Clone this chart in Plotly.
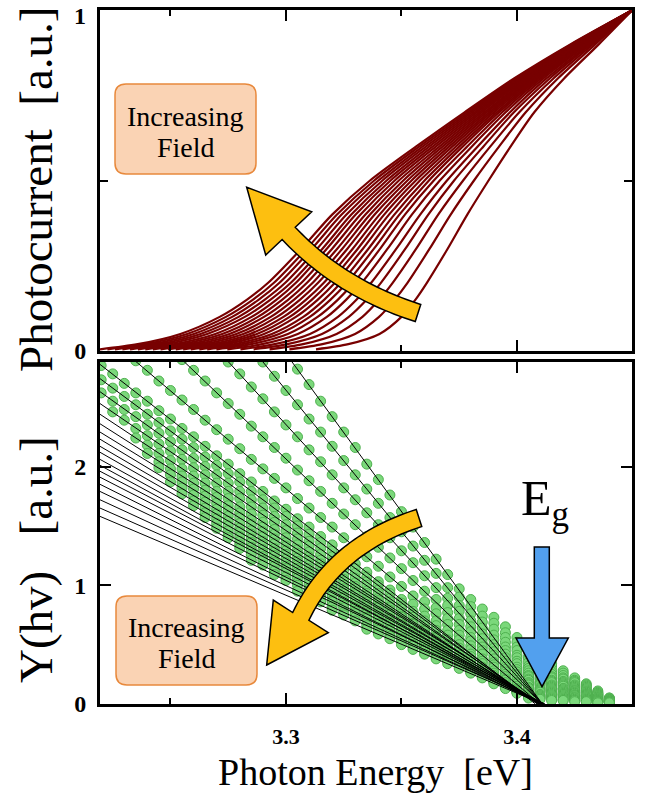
import math
import plotly.graph_objects as go

# ---------------- data ----------------
E_LEFT, E_RIGHT = 3.2195, 3.4498          # photon-energy window (eV)
Y_BOTTOM_MAX = 2.88                        # top of the Y(hv) axis

# Top panel: normalised photocurrent levels and the photon energy (eV) at which
# each measured curve reaches that level (22 curves, highest field first)
PC_LEVELS = [0.005, 0.02, 0.05, 0.10, 0.15, 0.20, 0.30, 0.40, 0.50, 0.60, 0.70, 0.80, 0.90, 1.00]
PC_CURVES_E = [
    [3.2195, 3.2358, 3.2543, 3.2713, 3.2830, 3.2923, 3.3067, 3.3200, 3.3364, 3.3564, 3.3773, 3.3989, 3.4233, 3.45],
    [3.2227, 3.2389, 3.2572, 3.2740, 3.2856, 3.2948, 3.3090, 3.3221, 3.3382, 3.3578, 3.3784, 3.3997, 3.4237, 3.45],
    [3.2260, 3.2420, 3.2601, 3.2767, 3.2881, 3.2972, 3.3112, 3.3241, 3.3400, 3.3592, 3.3795, 3.4004, 3.4241, 3.45],
    [3.2292, 3.2451, 3.2630, 3.2795, 3.2907, 3.2997, 3.3135, 3.3262, 3.3418, 3.3607, 3.3805, 3.4012, 3.4245, 3.45],
    [3.2325, 3.2482, 3.2659, 3.2822, 3.2932, 3.3021, 3.3158, 3.3283, 3.3436, 3.3621, 3.3816, 3.4019, 3.4249, 3.45],
    [3.2359, 3.2517, 3.2694, 3.2851, 3.2958, 3.3043, 3.3177, 3.3302, 3.3453, 3.3636, 3.3826, 3.4027, 3.4255, 3.45],
    [3.2391, 3.2549, 3.2724, 3.2878, 3.2983, 3.3067, 3.3200, 3.3323, 3.3471, 3.3650, 3.3837, 3.4034, 3.4259, 3.45],
    [3.2424, 3.2581, 3.2755, 3.2905, 3.3009, 3.3091, 3.3222, 3.3344, 3.3489, 3.3665, 3.3847, 3.4042, 3.4262, 3.45],
    [3.2457, 3.2613, 3.2785, 3.2934, 3.3034, 3.3116, 3.3244, 3.3364, 3.3508, 3.3679, 3.3858, 3.4050, 3.4267, 3.45],
    [3.2489, 3.2645, 3.2815, 3.2961, 3.3060, 3.3139, 3.3266, 3.3384, 3.3526, 3.3693, 3.3868, 3.4057, 3.4271, 3.45],
    [3.2523, 3.2678, 3.2845, 3.2989, 3.3086, 3.3164, 3.3289, 3.3405, 3.3544, 3.3707, 3.3879, 3.4065, 3.4276, 3.45],
    [3.2555, 3.2710, 3.2874, 3.3016, 3.3111, 3.3187, 3.3311, 3.3425, 3.3562, 3.3721, 3.3889, 3.4072, 3.4280, 3.45],
    [3.2588, 3.2741, 3.2905, 3.3043, 3.3137, 3.3212, 3.3333, 3.3446, 3.3580, 3.3736, 3.3900, 3.4080, 3.4284, 3.45],
    [3.2625, 3.2777, 3.2939, 3.3075, 3.3165, 3.3238, 3.3357, 3.3469, 3.3600, 3.3751, 3.3912, 3.4088, 3.4289, 3.45],
    [3.2659, 3.2811, 3.2970, 3.3103, 3.3192, 3.3264, 3.3381, 3.3491, 3.3619, 3.3766, 3.3923, 3.4096, 3.4294, 3.45],
    [3.2699, 3.2849, 3.3008, 3.3137, 3.3224, 3.3293, 3.3408, 3.3515, 3.3640, 3.3785, 3.3936, 3.4105, 3.4298, 3.45],
    [3.2746, 3.2896, 3.3051, 3.3177, 3.3260, 3.3328, 3.3440, 3.3545, 3.3666, 3.3805, 3.3951, 3.4116, 3.4305, 3.45],
    [3.2803, 3.2951, 3.3104, 3.3225, 3.3305, 3.3369, 3.3478, 3.3581, 3.3697, 3.3830, 3.3970, 3.4129, 3.4313, 3.45],
    [3.2860, 3.3006, 3.3156, 3.3272, 3.3349, 3.3411, 3.3517, 3.3616, 3.3728, 3.3855, 3.3987, 3.4143, 3.4320, 3.45],
    [3.2929, 3.3074, 3.3219, 3.3331, 3.3403, 3.3462, 3.3564, 3.3659, 3.3767, 3.3885, 3.4010, 3.4159, 3.4329, 3.45],
    [3.3015, 3.3158, 3.3299, 3.3403, 3.3470, 3.3526, 3.3622, 3.3713, 3.3814, 3.3923, 3.4038, 3.4178, 3.4340, 3.45],
    [3.3130, 3.3270, 3.3405, 3.3500, 3.3560, 3.3610, 3.3700, 3.3785, 3.3877, 3.3973, 3.4075, 3.4205, 3.4355, 3.45],
]

# Bottom panel: photon energies of the Y(hv) data columns
PHOTON_E = [3.220, 3.225, 3.230, 3.235, 3.240, 3.245, 3.250, 3.255, 3.260, 3.265,
            3.270, 3.275, 3.280, 3.285, 3.290, 3.295, 3.300, 3.305, 3.310, 3.315,
            3.320, 3.325, 3.330, 3.335, 3.340, 3.345, 3.350, 3.355, 3.360, 3.365,
            3.370, 3.375, 3.380, 3.385, 3.390, 3.395, 3.400, 3.405, 3.410, 3.415,
            3.420, 3.425, 3.430, 3.435, 3.440]

# Y(hv) data of each series (lowest field first); each row ends at 3.44 eV
DOT_Y = [
    [2.82, 2.69, 2.55, 2.42, 2.29, 2.16, 2.02, 1.89, 1.76, 1.62, 1.49, 1.36, 1.22, 1.09, 0.97, 0.88, 0.80, 0.73, 0.65, 0.56, 0.47, 0.40, 0.34, 0.28, 0.22, 0.17, 0.11, 0.05],
    [2.88, 2.76, 2.64, 2.52, 2.40, 2.29, 2.17, 2.05, 1.93, 1.81, 1.69, 1.57, 1.45, 1.33, 1.21, 1.10, 0.98, 0.90, 0.82, 0.74, 0.68, 0.60, 0.52, 0.44, 0.37, 0.32, 0.26, 0.20, 0.16, 0.10, 0.05],
    [2.88, 2.78, 2.67, 2.57, 2.46, 2.35, 2.25, 2.14, 2.04, 1.93, 1.82, 1.72, 1.61, 1.51, 1.40, 1.29, 1.19, 1.08, 0.98, 0.89, 0.83, 0.76, 0.69, 0.63, 0.56, 0.48, 0.40, 0.34, 0.29, 0.24, 0.19, 0.15, 0.09, 0.04],
    [2.90, 2.81, 2.72, 2.62, 2.53, 2.44, 2.34, 2.25, 2.16, 2.07, 1.97, 1.88, 1.79, 1.69, 1.60, 1.51, 1.41, 1.32, 1.23, 1.14, 1.04, 0.95, 0.88, 0.83, 0.78, 0.70, 0.64, 0.58, 0.52, 0.45, 0.38, 0.32, 0.27, 0.22, 0.18, 0.14, 0.09, 0.04],
    [2.89, 2.81, 2.72, 2.64, 2.56, 2.48, 2.39, 2.31, 2.23, 2.15, 2.06, 1.98, 1.90, 1.82, 1.73, 1.65, 1.57, 1.49, 1.40, 1.32, 1.24, 1.16, 1.07, 0.99, 0.91, 0.86, 0.81, 0.77, 0.72, 0.65, 0.59, 0.54, 0.48, 0.41, 0.35, 0.30, 0.25, 0.21, 0.16, 0.13, 0.08, 0.04],
    [2.85, 2.78, 2.70, 2.62, 2.55, 2.47, 2.40, 2.32, 2.25, 2.17, 2.09, 2.02, 1.94, 1.87, 1.79, 1.71, 1.64, 1.56, 1.49, 1.41, 1.34, 1.26, 1.18, 1.11, 1.03, 0.96, 0.88, 0.84, 0.80, 0.76, 0.72, 0.67, 0.61, 0.55, 0.50, 0.45, 0.39, 0.32, 0.28, 0.23, 0.19, 0.15, 0.12, 0.08, 0.03],
    [2.73, 2.66, 2.59, 2.52, 2.44, 2.37, 2.30, 2.23, 2.16, 2.08, 2.01, 1.94, 1.87, 1.79, 1.72, 1.65, 1.58, 1.50, 1.43, 1.36, 1.29, 1.22, 1.14, 1.07, 1.00, 0.93, 0.85, 0.78, 0.74, 0.70, 0.67, 0.62, 0.56, 0.51, 0.47, 0.42, 0.36, 0.30, 0.26, 0.22, 0.18, 0.14, 0.11, 0.07, 0.03],
    [2.62, 2.55, 2.48, 2.42, 2.35, 2.28, 2.21, 2.14, 2.07, 2.00, 1.93, 1.86, 1.79, 1.72, 1.65, 1.58, 1.51, 1.44, 1.37, 1.31, 1.24, 1.17, 1.10, 1.03, 0.96, 0.89, 0.82, 0.75, 0.70, 0.66, 0.62, 0.58, 0.53, 0.48, 0.44, 0.39, 0.34, 0.28, 0.24, 0.20, 0.17, 0.13, 0.10, 0.07, 0.03],
    [2.46, 2.39, 2.32, 2.26, 2.19, 2.13, 2.06, 1.99, 1.93, 1.86, 1.79, 1.73, 1.66, 1.59, 1.53, 1.46, 1.39, 1.33, 1.26, 1.20, 1.13, 1.06, 1.00, 0.93, 0.86, 0.80, 0.73, 0.66, 0.62, 0.58, 0.54, 0.49, 0.45, 0.41, 0.36, 0.31, 0.26, 0.22, 0.19, 0.16, 0.12, 0.10, 0.06, 0.03],
    [2.24, 2.18, 2.11, 2.05, 1.98, 1.92, 1.86, 1.79, 1.73, 1.66, 1.60, 1.53, 1.47, 1.40, 1.34, 1.28, 1.21, 1.15, 1.08, 1.02, 0.95, 0.89, 0.82, 0.76, 0.70, 0.63, 0.57, 0.54, 0.50, 0.46, 0.42, 0.38, 0.34, 0.29, 0.24, 0.21, 0.18, 0.15, 0.11, 0.09, 0.06, 0.03],
    [2.11, 2.04, 1.98, 1.92, 1.86, 1.80, 1.74, 1.67, 1.61, 1.55, 1.49, 1.43, 1.36, 1.30, 1.24, 1.18, 1.12, 1.05, 0.99, 0.93, 0.87, 0.81, 0.74, 0.68, 0.62, 0.56, 0.50, 0.47, 0.42, 0.38, 0.35, 0.31, 0.27, 0.23, 0.19, 0.16, 0.13, 0.11, 0.08, 0.05, 0.02],
    [1.99, 1.93, 1.87, 1.81, 1.75, 1.69, 1.63, 1.57, 1.51, 1.45, 1.39, 1.33, 1.27, 1.21, 1.15, 1.09, 1.03, 0.97, 0.91, 0.85, 0.79, 0.73, 0.67, 0.61, 0.55, 0.49, 0.44, 0.40, 0.36, 0.33, 0.29, 0.25, 0.21, 0.18, 0.15, 0.13, 0.10, 0.08, 0.05, 0.02],
    [1.87, 1.82, 1.76, 1.70, 1.64, 1.58, 1.52, 1.46, 1.41, 1.35, 1.29, 1.23, 1.17, 1.11, 1.05, 1.00, 0.94, 0.88, 0.82, 0.76, 0.70, 0.64, 0.59, 0.53, 0.47, 0.41, 0.37, 0.34, 0.31, 0.27, 0.24, 0.20, 0.17, 0.14, 0.12, 0.09, 0.07, 0.05, 0.02],
    [1.77, 1.71, 1.65, 1.60, 1.54, 1.48, 1.43, 1.37, 1.31, 1.26, 1.20, 1.14, 1.09, 1.03, 0.97, 0.92, 0.86, 0.81, 0.75, 0.69, 0.64, 0.58, 0.52, 0.47, 0.41, 0.35, 0.31, 0.28, 0.25, 0.22, 0.18, 0.16, 0.13, 0.11, 0.09, 0.07, 0.04, 0.02],
    [1.67, 1.61, 1.56, 1.50, 1.45, 1.39, 1.34, 1.28, 1.22, 1.17, 1.11, 1.06, 1.00, 0.95, 0.89, 0.84, 0.78, 0.72, 0.67, 0.61, 0.56, 0.50, 0.45, 0.39, 0.33, 0.29, 0.26, 0.23, 0.20, 0.17, 0.14, 0.12, 0.10, 0.08, 0.06, 0.04, 0.02],
    [1.57, 1.52, 1.46, 1.41, 1.36, 1.30, 1.25, 1.19, 1.14, 1.09, 1.03, 0.98, 0.93, 0.87, 0.82, 0.76, 0.71, 0.66, 0.60, 0.55, 0.50, 0.44, 0.39, 0.33, 0.28, 0.24, 0.21, 0.18, 0.16, 0.13, 0.11, 0.09, 0.07, 0.06, 0.04, 0.02],
    [1.48, 1.42, 1.37, 1.32, 1.27, 1.21, 1.16, 1.11, 1.06, 1.00, 0.95, 0.90, 0.84, 0.79, 0.74, 0.69, 0.63, 0.58, 0.53, 0.48, 0.42, 0.37, 0.32, 0.26, 0.22, 0.20, 0.17, 0.14, 0.12, 0.10, 0.08, 0.07, 0.05, 0.03, 0.02],
    [1.40, 1.34, 1.29, 1.24, 1.19, 1.14, 1.09, 1.04, 0.99, 0.94, 0.89, 0.84, 0.78, 0.73, 0.68, 0.63, 0.58, 0.53, 0.48, 0.43, 0.38, 0.33, 0.28, 0.22, 0.18, 0.15, 0.13, 0.11, 0.09, 0.08, 0.06, 0.05, 0.03, 0.01],
    [1.31, 1.26, 1.21, 1.16, 1.11, 1.06, 1.01, 0.96, 0.91, 0.86, 0.81, 0.76, 0.71, 0.66, 0.61, 0.56, 0.51, 0.46, 0.41, 0.36, 0.31, 0.26, 0.21, 0.16, 0.13, 0.11, 0.10, 0.08, 0.07, 0.05, 0.04, 0.03, 0.01],
    [1.21, 1.17, 1.12, 1.07, 1.02, 0.97, 0.92, 0.87, 0.83, 0.78, 0.73, 0.68, 0.63, 0.58, 0.53, 0.49, 0.44, 0.39, 0.34, 0.29, 0.24, 0.19, 0.15, 0.12, 0.10, 0.08, 0.07, 0.06, 0.05, 0.04, 0.02, 0.01],
    [1.09, 1.04, 1.00, 0.95, 0.90, 0.86, 0.81, 0.76, 0.72, 0.67, 0.62, 0.58, 0.53, 0.48, 0.44, 0.39, 0.34, 0.30, 0.25, 0.21, 0.16, 0.11, 0.08, 0.07, 0.06, 0.05, 0.04, 0.03, 0.02, 0.01],
    [0.95, 0.91, 0.86, 0.82, 0.77, 0.73, 0.68, 0.64, 0.59, 0.55, 0.50, 0.46, 0.41, 0.37, 0.32, 0.28, 0.23, 0.19, 0.14, 0.10, 0.07, 0.06, 0.05, 0.04, 0.03, 0.03, 0.02, 0.01],
    [0.79, 0.75, 0.70, 0.66, 0.62, 0.57, 0.53, 0.49, 0.45, 0.40, 0.36, 0.32, 0.27, 0.23, 0.19, 0.15, 0.10, 0.06, 0.05, 0.04, 0.03, 0.03, 0.02, 0.01, 0.01],
    [0.63, 0.59, 0.55, 0.50, 0.46, 0.42, 0.38, 0.34, 0.30, 0.26, 0.22, 0.17, 0.13, 0.09, 0.05, 0.04, 0.03, 0.03, 0.02, 0.02, 0.01, 0.01],
]

# Linear fits: value at the left edge of the window and the zero crossing (Eg)
FIT_Y_LEFT = [5.09, 4.56, 4.06, 3.56, 3.14, 2.86, 2.74, 2.63, 2.53, 2.44, 2.36, 2.29,
              2.23, 2.17, 2.12, 2.06, 2.01, 1.96, 1.91, 1.85, 1.79, 1.72, 1.65, 1.58]
FIT_EG = [3.411, 3.411, 3.411, 3.411, 3.410, 3.408, 3.409, 3.409, 3.410, 3.409, 3.410, 3.411,
          3.410, 3.411, 3.410, 3.411, 3.410, 3.412, 3.411, 3.410, 3.412, 3.411, 3.412, 3.411]

# ---------------- figure ----------------
W, H = 646, 806
ML, MR, MT, MB = 100, 14, 10, 102
PW, PH = W - ML - MR, H - MT - MB
SERIF = "Liberation Serif, Times New Roman, serif"


def px(x):
    return (x - ML) / PW


def py(y):
    return (H - MB - y) / PH


def pt(p):
    return f"{px(p[0]):.5f},{py(p[1]):.5f}"


def poly_path(points):
    return "M " + " L ".join(pt(p) for p in points) + " Z"


def rrect_path(x0, y0, x1, y1, r):
    return (f"M {pt((x0 + r, y0))} L {pt((x1 - r, y0))} Q {pt((x1, y0))} {pt((x1, y0 + r))} "
            f"L {pt((x1, y1 - r))} Q {pt((x1, y1))} {pt((x1 - r, y1))} "
            f"L {pt((x0 + r, y1))} Q {pt((x0, y1))} {pt((x0, y1 - r))} "
            f"L {pt((x0, y0 + r))} Q {pt((x0, y0))} {pt((x0 + r, y0))} Z")


def curved_arrow_path(tip, wing_a, wing_b, p0, c, p2, hw, n=30):
    s1, s2 = [], []
    for i in range(n + 1):
        t = i / n
        x = (1 - t) ** 2 * p0[0] + 2 * t * (1 - t) * c[0] + t * t * p2[0]
        y = (1 - t) ** 2 * p0[1] + 2 * t * (1 - t) * c[1] + t * t * p2[1]
        dx = 2 * (1 - t) * (c[0] - p0[0]) + 2 * t * (p2[0] - c[0])
        dy = 2 * (1 - t) * (c[1] - p0[1]) + 2 * t * (p2[1] - c[1])
        ln = math.hypot(dx, dy)
        nx, ny = -dy / ln, dx / ln
        s1.append((x + hw * nx, y + hw * ny))
        s2.append((x - hw * nx, y - hw * ny))
    if math.dist(wing_a, s1[0]) < math.dist(wing_a, s2[0]):
        first, second = wing_a, wing_b
    else:
        first, second = wing_b, wing_a
    return poly_path([tip, first] + s1 + s2[::-1] + [second])


fig = go.Figure()

for row in PC_CURVES_E:
    fig.add_trace(go.Scatter(x=row, y=PC_LEVELS, mode="lines",
                             line=dict(color="#780000", width=2.2, shape="spline", smoothing=0.8),
                             xaxis="x", yaxis="y", showlegend=False, hoverinfo="skip"))

for row in DOT_Y:
    fig.add_trace(go.Scatter(x=PHOTON_E[-len(row):], y=row, mode="markers",
                             marker=dict(size=10, color="#7bd87b", line=dict(color="#4fb04f", width=1)),
                             xaxis="x2", yaxis="y2", showlegend=False, hoverinfo="skip"))

for y0, eg in zip(FIT_Y_LEFT, FIT_EG):
    fig.add_trace(go.Scatter(x=[E_LEFT, eg], y=[y0, 0], mode="lines",
                             line=dict(color="black", width=1),
                             xaxis="x2", yaxis="y2", showlegend=False, hoverinfo="skip"))

top_dom = [(H - MB - 351) / PH, 1.0]
bot_dom = [0.0, (H - MB - 362) / PH]

axis_common = dict(showline=True, linecolor="black", linewidth=3, mirror="ticks",
                   ticks="inside", tickcolor="black", tickwidth=2, showgrid=False,
                   zeroline=False, fixedrange=True, automargin=False,
                   ticklabeloverflow="allow")
tick_font = dict(family=SERIF, size=24, color="black", weight="bold")
x_minor = dict(tickmode="array", tickvals=[3.25, 3.35], ticks="inside", ticklen=6,
               tickwidth=2, tickcolor="black", showgrid=False)

fig.update_layout(
    width=W, height=H, margin=dict(l=ML, r=MR, t=MT, b=MB, autoexpand=False),
    paper_bgcolor="white", plot_bgcolor="white", showlegend=False,
    xaxis=dict(axis_common, domain=[0, 1], anchor="y", range=[E_LEFT, E_RIGHT],
               tickmode="array", tickvals=[3.3, 3.4], ticklen=11, showticklabels=False,
               minor=x_minor),
    yaxis=dict(axis_common, domain=top_dom, anchor="x", range=[0, 1],
               tickmode="array", tickvals=[0], ticktext=["0"], ticklen=8,
               tickfont=tick_font, ticklabelstandoff=6,
               minor=dict(tickmode="array", tickvals=[0.5], ticks="inside", ticklen=8,
                          tickwidth=2, tickcolor="black", showgrid=False)),
    xaxis2=dict(axis_common, domain=[0, 1], anchor="y2", range=[E_LEFT, E_RIGHT],
                tickmode="array", tickvals=[3.3, 3.4], ticktext=["3.3", "3.4"], ticklen=11,
                tickfont=dict(family=SERIF, size=22, color="black", weight="bold"),
                ticklabelstandoff=11, minor=x_minor),
    yaxis2=dict(axis_common, domain=bot_dom, anchor="x2", range=[0, Y_BOTTOM_MAX],
                tickmode="array", tickvals=[0, 1, 2], ticklen=11,
                tickfont=tick_font, ticklabelstandoff=6),
)

BOX_FILL, BOX_LINE = "#fad3b4", "#e8893c"
YELLOW = "#fdbf10"
shapes = [
    dict(type="path", xref="paper", yref="paper", path=rrect_path(115, 84, 256, 174, 11),
         fillcolor=BOX_FILL, line=dict(color=BOX_LINE, width=1.5)),
    dict(type="path", xref="paper", yref="paper", path=rrect_path(116, 596, 257, 685, 11),
         fillcolor=BOX_FILL, line=dict(color=BOX_LINE, width=1.5)),
    dict(type="path", xref="paper", yref="paper",
         path=curved_arrow_path((246.7, 187.3), (265.7, 255.0), (311.7, 211.7),
                                (288.7, 233.4), (340.0, 288.0), (418.0, 313.0), 9.0),
         fillcolor=YELLOW, line=dict(color="black", width=1.5)),
    dict(type="path", xref="paper", yref="paper",
         path=curved_arrow_path((266.7, 665.0), (273.3, 600.0), (328.3, 632.7),
                                (300.8, 616.4), (335.0, 545.0), (419.0, 518.0), 9.0),
         fillcolor=YELLOW, line=dict(color="black", width=1.5)),
    dict(type="path", xref="paper", yref="paper",
         path=poly_path([(534.3, 547), (549.3, 547), (549.3, 638), (568.3, 638),
                         (542.0, 686.7), (516.0, 638), (534.3, 638)]),
         fillcolor="#52a0ee", line=dict(color="black", width=1.5)),
]
fig.update_layout(shapes=shapes)

box_font = dict(family=SERIF, size=28, color="black")
annotations = [
    dict(x=px(88), y=py(16), text="1", xanchor="right", font=tick_font),
    dict(x=px(185.5), y=py(116), text="Increasing", font=box_font),
    dict(x=px(185.5), y=py(147), text="Field", font=box_font),
    dict(x=px(186.5), y=py(627), text="Increasing", font=box_font),
    dict(x=px(186.5), y=py(658), text="Field", font=box_font),
    dict(x=px(545), y=py(502), text="E<sub>g</sub>",
         font=dict(family=SERIF, size=50, color="black")),
    dict(x=px(375), y=py(772), text="Photon Energy  [eV]",
         font=dict(family=SERIF, size=38, color="black")),
    dict(x=px(36), y=py(190), text="Photocurrent  [a.u.]", textangle=-90,
         font=dict(family=SERIF, size=47, color="black")),
    dict(x=px(36), y=py(560), text="Y(hv)&nbsp;&nbsp;&nbsp;[a.u.]", textangle=-90,
         font=dict(family=SERIF, size=47, color="black")),
]
for a in annotations:
    a.setdefault("xanchor", "center")
    a.update(xref="paper", yref="paper", showarrow=False, yanchor="middle")
fig.update_layout(annotations=annotations)

fig.write_html("out.html")
